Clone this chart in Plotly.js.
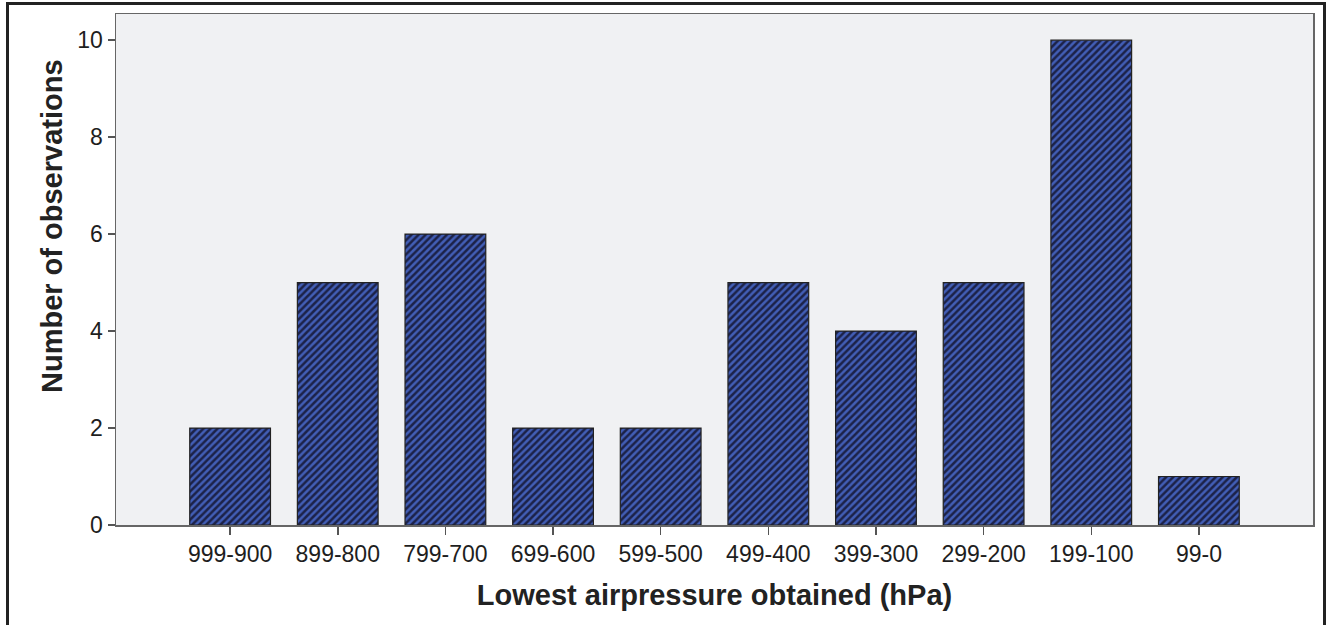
<!DOCTYPE html>
<html>
<head>
<meta charset="utf-8">
<script src="https://cdn.plot.ly/plotly-3.0.1.min.js"></script>
<style>
html,body{margin:0;padding:0;background:#fff;}
#wrap{position:relative;width:1333px;height:625px;}
#chart{width:1333px;height:625px;}
#frame{position:absolute;left:6px;top:2px;width:1320px;height:640px;border:3px solid #222;pointer-events:none;box-sizing:border-box;}
</style>
</head>
<body>
<div id="wrap">
<div id="chart"></div>
<div id="frame"></div>
</div>
<script>
const categories = ["999-900","899-800","799-700","699-600","599-500","499-400","399-300","299-200","199-100","99-0"];
const counts = [2,5,6,2,2,5,4,5,10,1];
const yTicks = [0,2,4,6,8,10];
const xTitle = 'Lowest airpressure obtained (hPa)';
const yTitle = 'Number of observations';

const trace = {
  type: 'bar',
  x: categories,
  y: counts,
  width: 0.75,
  marker: {
    color: '#3d57aa',
    line: {color: '#222', width: 1.2},
    pattern: {shape: '/', fgcolor: '#1c2248', bgcolor: '#425eb6', size: 5, solidity: 0.5}
  },
  hoverinfo: 'x+y'
};

const layout = {
  width: 1333, height: 625,
  margin: {l: 116, r: 20, t: 14, b: 100},
  paper_bgcolor: 'rgba(0,0,0,0)',
  plot_bgcolor: '#f0f1f3',
  font: {family: 'Liberation Sans, Arial, sans-serif', color: '#222'},
  showlegend: false,
  bargap: 0.25,
  xaxis: {
    type: 'category',
    range: [-1.06, 10.06],
    showline: true, mirror: true, linecolor: '#666', linewidth: 1.5,
    ticks: 'outside', ticklen: 8, tickcolor: '#555', tickwidth: 1.5,
    tickfont: {size: 23, color: '#1e1e1e'},
    showgrid: false, zeroline: false,
    title: {text: '<b>' + xTitle + '</b>', font: {size: 29, color: '#222'}, standoff: 18}
  },
  yaxis: {
    range: [0, 10.54],
    tickvals: yTicks,
    showline: true, mirror: true, linecolor: '#666', linewidth: 1.5,
    ticks: 'outside', ticklen: 7, tickcolor: '#555', tickwidth: 1.5,
    tickfont: {size: 23, color: '#1e1e1e'},
    showgrid: false, zeroline: false
  },
  annotations: [{
    text: '<b>' + yTitle + '</b>',
    xref: 'paper', yref: 'paper',
    x: -0.0535, y: 0.585,
    xanchor: 'center', yanchor: 'middle',
    textangle: -90, showarrow: false,
    font: {size: 29, color: '#222'}
  }]
};

Plotly.newPlot('chart', [trace], layout, {displayModeBar: false, staticPlot: true});
</script>
</body>
</html>
